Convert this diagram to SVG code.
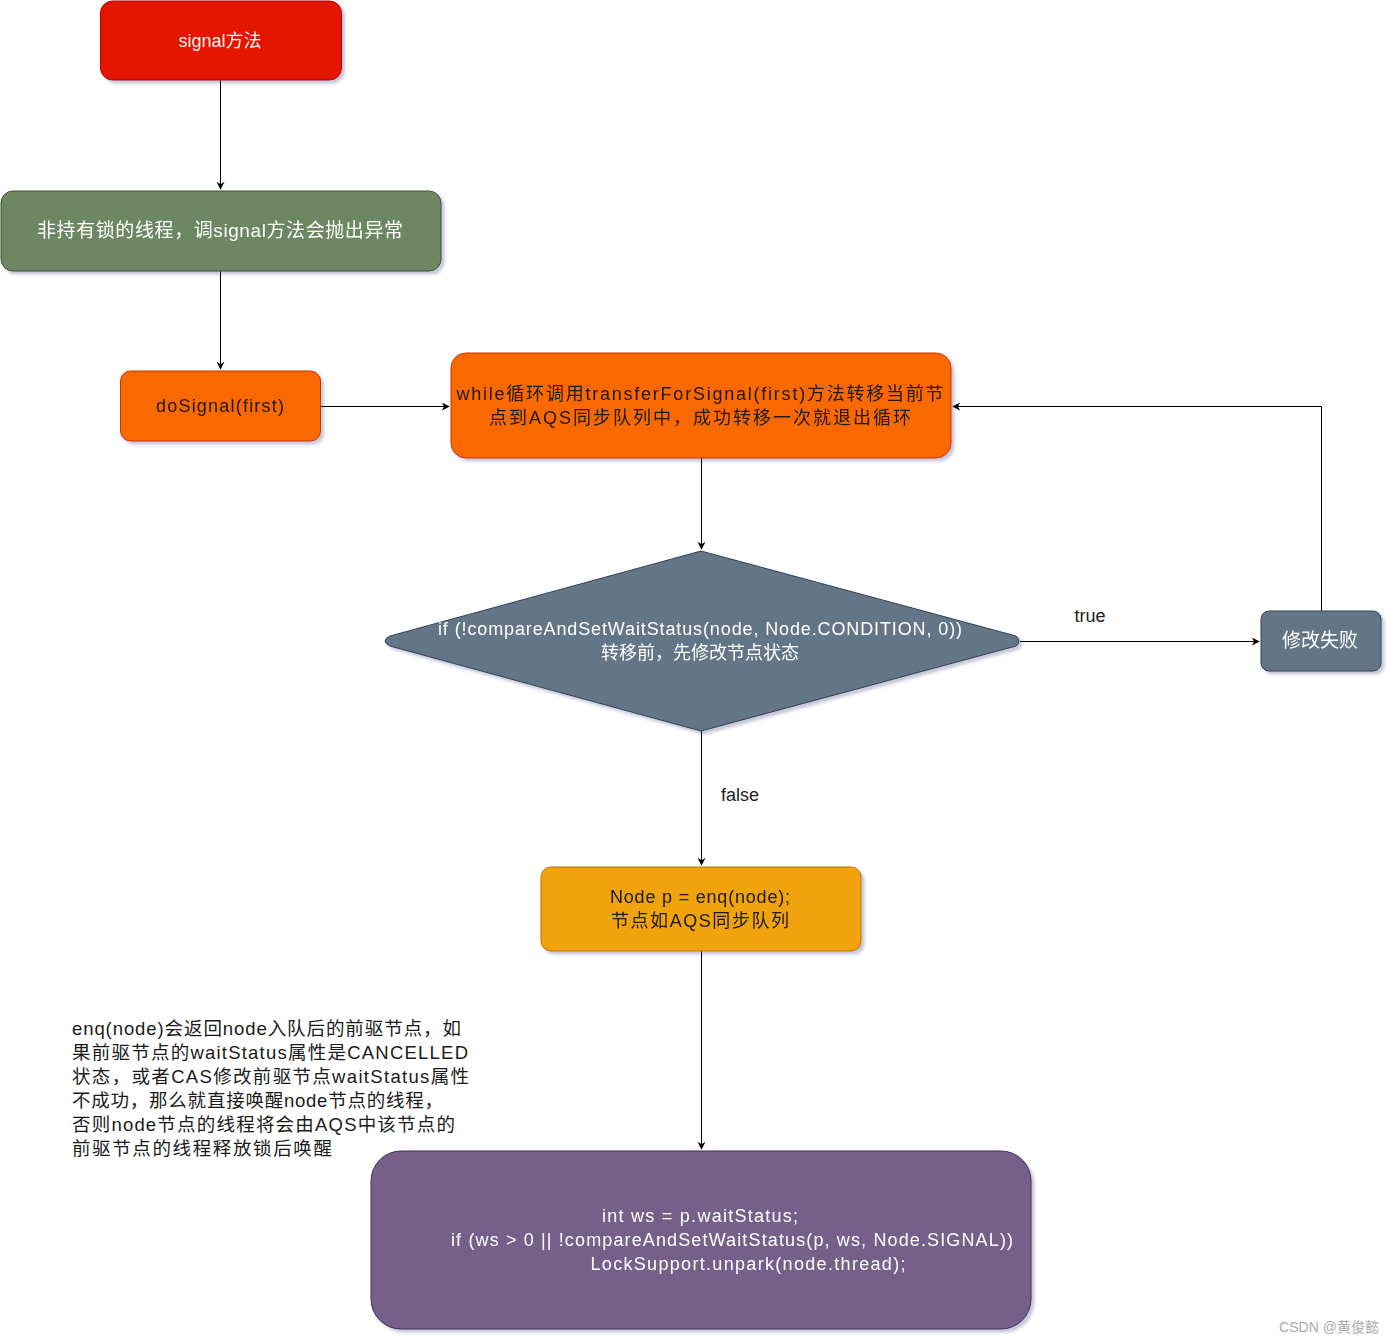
<svg xmlns="http://www.w3.org/2000/svg" width="1394" height="1344" viewBox="0 0 1394 1344">
<defs>
<filter id="sh" x="-10%" y="-10%" width="130%" height="140%">
<feGaussianBlur in="SourceAlpha" stdDeviation="1.5"/>
<feOffset dx="3" dy="3" result="o"/>
<feFlood flood-color="#404080" flood-opacity="0.3"/>
<feComposite in2="o" operator="in"/>
<feMerge><feMergeNode/><feMergeNode in="SourceGraphic"/></feMerge>
</filter>
<marker id="arr" viewBox="0 0 10 10" refX="9" refY="5" markerWidth="8" markerHeight="8" markerUnits="userSpaceOnUse" orient="auto">
<path d="M0,0 L10,5 L0,10 L3,5 Z" fill="#000"/>
</marker>
</defs>
<style>
text{font-family:"Liberation Sans","Noto Sans CJK SC",sans-serif;font-size:18px;text-anchor:middle}
.w{fill:#ffffff}
.d{fill:#1a1a1a}
.e{fill:none;stroke:#000;stroke-width:1;marker-end:url(#arr)}
.lbl{fill:#222;font-size:18px}
.n{font-size:18.5px;text-anchor:start}
</style>
<rect width="1394" height="1344" fill="#ffffff"/>
<g id="connectors">
<path class="e" d="M220.5,80 L220.5,189"/>
<path class="e" d="M220.5,271 L220.5,369"/>
<path class="e" d="M321,406.5 L449,406.5"/>
<path class="e" d="M701.5,458 L701.5,549"/>
<path class="e" d="M1020,641.5 L1259,641.5"/>
<path class="e" d="M1321.5,611 L1321.5,406.5 L953,406.5"/>
<path class="e" d="M701.5,731 L701.5,865"/>
<path class="e" d="M701.5,951 L701.5,1149"/>
<text class="lbl" x="1090" y="622">true</text>
<text class="lbl" x="740" y="801">false</text>
</g>
<g id="n-signal" filter="url(#sh)">
<rect x="100.5" y="1" width="241" height="79" rx="12" fill="#e51400" stroke="#b20000"/>
<text class="w" x="220" y="47">signal方法</text>
</g>
<g id="n-check" filter="url(#sh)">
<rect x="1" y="191" width="440" height="80" rx="12" fill="#6d8764" stroke="#3a5431"/>
<text class="w" x="220" y="237" style="font-size:19px" textLength="366" lengthAdjust="spacing">非持有锁的线程，调signal方法会抛出异常</text>
</g>
<g id="n-dosignal" filter="url(#sh)">
<rect x="120.5" y="371" width="200" height="70" rx="10" fill="#fa6800" stroke="#c73500"/>
<text class="d" x="220" y="412" textLength="128" lengthAdjust="spacing">doSignal(first)</text>
</g>
<g id="n-while" filter="url(#sh)">
<rect x="451" y="353" width="500" height="105" rx="15" fill="#fa6800" stroke="#c73500"/>
<text class="d" x="700" y="400" textLength="487" lengthAdjust="spacing">while循环调用transferForSignal(first)方法转移当前节</text>
<text class="d" x="700" y="424" textLength="422" lengthAdjust="spacing">点到AQS同步队列中，成功转移一次就退出循环</text>
</g>
<g id="n-diamond" filter="url(#sh)">
<path d="M701,551 L1016,636 Q1022,641 1016,646 L701,731 L390,646 Q380,641 390,636 Z" fill="#647687" stroke="#314354"/>
<text class="w" x="700" y="635" textLength="524" lengthAdjust="spacing">if (!compareAndSetWaitStatus(node, Node.CONDITION, 0))</text>
<text class="w" x="700" y="659">转移前，先修改节点状态</text>
</g>
<g id="n-fail" filter="url(#sh)">
<rect x="1261" y="611" width="120" height="60" rx="8" fill="#647687" stroke="#314354"/>
<text class="w" x="1320" y="647" style="font-size:19px">修改失败</text>
</g>
<g id="n-enq" filter="url(#sh)">
<rect x="541" y="867" width="320" height="84" rx="10" fill="#f0a30a" stroke="#bd7000"/>
<text class="d" x="700" y="903" textLength="180" lengthAdjust="spacing">Node p = enq(node);</text>
<text class="d" x="700" y="927" textLength="178" lengthAdjust="spacing">节点如AQS同步队列</text>
</g>
<g id="n-unpark" filter="url(#sh)">
<rect x="371" y="1151" width="660" height="178" rx="30" fill="#76608a" stroke="#432d57"/>
<text class="w" x="700" y="1222" textLength="196" lengthAdjust="spacing">int ws = p.waitStatus;</text>
<text class="w" x="732" y="1246" textLength="562" lengthAdjust="spacing">if (ws &gt; 0 || !compareAndSetWaitStatus(p, ws, Node.SIGNAL))</text>
<text class="w" x="748" y="1270" textLength="315" lengthAdjust="spacing">LockSupport.unpark(node.thread);</text>
</g>
<g id="note">
<text class="d n" x="72" y="1035" textLength="389" lengthAdjust="spacing">enq(node)会返回node入队后的前驱节点，如</text>
<text class="d n" x="72" y="1059" textLength="396" lengthAdjust="spacing">果前驱节点的waitStatus属性是CANCELLED</text>
<text class="d n" x="72" y="1083" textLength="397" lengthAdjust="spacing">状态，或者CAS修改前驱节点waitStatus属性</text>
<text class="d n" x="72" y="1107" textLength="371" lengthAdjust="spacing">不成功，那么就直接唤醒node节点的线程，</text>
<text class="d n" x="72" y="1131" textLength="383" lengthAdjust="spacing">否则node节点的线程将会由AQS中该节点的</text>
<text class="d n" x="72" y="1155" textLength="260" lengthAdjust="spacing">前驱节点的线程释放锁后唤醒</text>
</g>
<text x="1329" y="1332" style="font-size:14px;fill:#aaaaaa">CSDN @黄俊懿</text>
</svg>
